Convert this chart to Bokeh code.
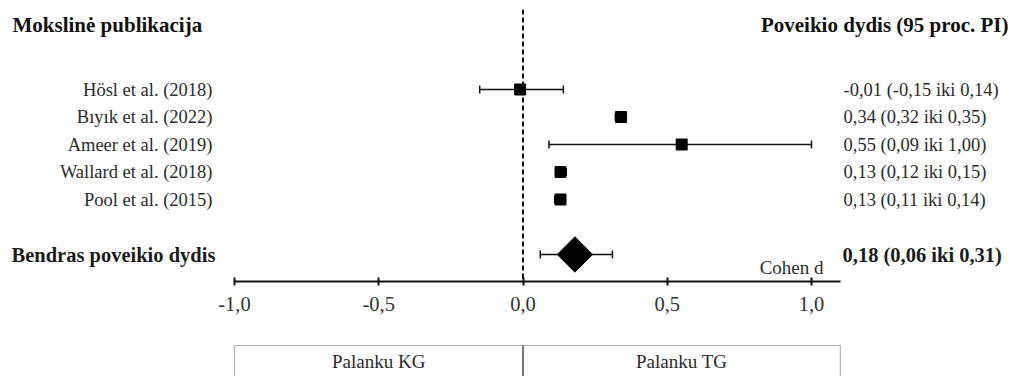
import numpy as np
from bokeh.plotting import figure
from bokeh.layouts import column
from bokeh.models import (Range1d, LinearAxis, FixedTicker, CustomJSTickFormatter,
                          Span, Label, Whisker, TeeHead, ColumnDataSource, Grid)
from bokeh.core.properties import value
from bokeh.embed import file_html
from bokeh.resources import INLINE

# ---------------- data ----------------
studies = ["Hösl et al. (2018)", "Bıyık et al. (2022)", "Ameer et al. (2019)",
           "Wallard et al. (2018)", "Pool et al. (2015)"]
effect = [-0.01, 0.34, 0.55, 0.13, 0.13]
lower = [-0.15, 0.32, 0.09, 0.12, 0.11]
upper = [0.14, 0.35, 1.00, 0.15, 0.14]

pooled_label = "Bendras poveikio dydis"
pooled_effect = 0.18
pooled_lower = 0.06
pooled_upper = 0.31

header_left = "Mokslinė publikacija"
header_right = "Poveikio dydis (95 proc. PI)"
axis_label = "Cohen d"
favour_labels = ["Palanku KG", "Palanku TG"]
tick_values = [-1.0, -0.5, 0.0, 0.5, 1.0]
tick_labels = ["-1,0", "-0,5", "0,0", "0,5", "1,0"]
axis_end = 1.1

# ---------------- layout helpers ----------------
W = 1011
H1 = 338
H2 = 376 - H1
FRAME_TOP = 9
FRAME_BOTTOM = 281      # px of axis line
PX_PER_UNIT = 288.5
X_MINUS1 = 234          # px of x=-1
ROW1_Y = 89
ROW_STEP = 27.5

def px_x(px):
    return -1 + (px - X_MINUS1) / PX_PER_UNIT

def px_y(py):
    return 1 + (py - ROW1_Y) / ROW_STEP

SERIF = value("Liberation Serif")
TXT = "#2b2b2b"

def fmt(v):
    return f"{v:.2f}".replace(".", ",")

n = len(studies)
rows = list(range(1, n + 1))
pooled_row = n + 2

p = figure(width=W, height=H1, output_backend="svg", toolbar_location=None,
           x_range=Range1d(px_x(0), px_x(W)),
           y_range=Range1d(px_y(FRAME_BOTTOM), px_y(FRAME_TOP)),
           x_axis_location=None, y_axis_location=None, title=None,
           min_border_left=0, min_border_right=0, min_border_top=FRAME_TOP,
           min_border_bottom=H1 - FRAME_BOTTOM)
p.outline_line_color = None
p.background_fill_color = "white"
p.border_fill_color = "white"
for r in p.center:
    if isinstance(r, Grid):
        r.visible = False

# x axis
ax = LinearAxis(ticker=FixedTicker(ticks=tick_values),
                formatter=CustomJSTickFormatter(
                    args=dict(tv=tick_values, tl=tick_labels),
                    code="""
                    let best = 0;
                    for (let i = 0; i < tv.length; i++) {
                        if (Math.abs(tv[i] - tick) < Math.abs(tv[best] - tick)) best = i;
                    }
                    return tl[best];
                    """),
                bounds=(tick_values[0], axis_end))
ax.axis_line_width = 2
ax.axis_line_color = "#111111"
ax.major_tick_line_width = 2
ax.major_tick_line_color = "#111111"
ax.major_tick_in = 4
ax.major_tick_out = 4
ax.minor_tick_line_color = None
ax.major_label_text_font = "Liberation Serif"
ax.major_label_text_font_size = "20.5px"
ax.major_label_text_color = "#333333"
ax.major_label_standoff = 11
p.add_layout(ax, "below")

# reference line at 0
p.add_layout(Span(location=0, dimension="height", line_color="#111111",
                  line_width=2, line_dash="5 3"))

# study CIs
src = ColumnDataSource(dict(y=rows, x=effect, lo=lower, hi=upper))
p.add_layout(Whisker(source=src, base="y", lower="lo", upper="hi", dimension="width",
                     line_width=1.5, line_color="#111111",
                     lower_head=TeeHead(size=8, line_width=1.5, line_color="#111111"),
                     upper_head=TeeHead(size=8, line_width=1.5, line_color="#111111")))
p.scatter(x="x", y="y", source=src, marker="square", size=11,
          fill_color="black", line_color="black")

# pooled
psrc = ColumnDataSource(dict(y=[pooled_row], x=[pooled_effect],
                             lo=[pooled_lower], hi=[pooled_upper]))
p.add_layout(Whisker(source=psrc, base="y", lower="lo", upper="hi", dimension="width",
                     line_width=1.5, line_color="#111111",
                     lower_head=TeeHead(size=8, line_width=1.5, line_color="#111111"),
                     upper_head=TeeHead(size=8, line_width=1.5, line_color="#111111")))
p.scatter(x="x", y="y", source=psrc, marker="square", size=25, angle=np.pi / 4,
          fill_color="black", line_color="black")

# study labels
p.text(x=[px_x(212)] * n, y=rows, text=studies, text_align="right",
       text_baseline="middle", text_font=SERIF, text_font_size="18.5px",
       text_color=TXT)
# value labels
vals = [f"{fmt(e)} ({fmt(l)} iki {fmt(u)})" for e, l, u in zip(effect, lower, upper)]
p.text(x=[px_x(843)] * n, y=rows, text=vals, text_align="left",
       text_baseline="middle", text_font=SERIF, text_font_size="18.5px",
       text_color=TXT)

# pooled labels
p.text(x=[px_x(11)], y=[pooled_row], text=[pooled_label], text_align="left",
       text_baseline="middle", text_font=SERIF, text_font_size="20.5px",
       text_font_style="bold", text_color="#1c1c1c")
p.text(x=[px_x(842)], y=[pooled_row],
       text=[f"{fmt(pooled_effect)} ({fmt(pooled_lower)} iki {fmt(pooled_upper)})"],
       text_align="left", text_baseline="middle", text_font=SERIF,
       text_font_size="20.5px", text_font_style="bold", text_color="#1c1c1c")

# headers
p.text(x=[px_x(12)], y=[px_y(24)], text=[header_left], text_align="left",
       text_baseline="middle", text_font=SERIF, text_font_size="21px",
       text_font_style="bold", text_color="#111111")
p.text(x=[px_x(1008)], y=[px_y(24)], text=[header_right], text_align="right",
       text_baseline="middle", text_font=SERIF, text_font_size="21px",
       text_font_style="bold", text_color="#111111")

# axis name
p.add_layout(Label(x=px_x(823), y=4, y_units="screen", text=axis_label,
                   text_align="right", text_baseline="bottom",
                   text_font="Liberation Serif", text_font_size="19px",
                   text_color=TXT))

# ---------------- favour boxes ----------------
p2 = figure(width=W, height=H2, output_backend="svg", toolbar_location=None,
            x_range=p.x_range, y_range=Range1d(H2, 0),
            x_axis_location=None, y_axis_location=None, title=None,
            min_border=0)
p2.outline_line_color = None
for r in p2.center:
    if isinstance(r, Grid):
        r.visible = False
box_top = 345 - H1
p2.quad(left=[tick_values[0], 0], right=[0, axis_end], top=[box_top] * 2,
        bottom=[H2 + 20] * 2, fill_color=None, line_color="#b5b5b5", line_width=1.2)
p2.segment(x0=[0], x1=[0], y0=[box_top], y1=[H2 + 20], line_color="#444444",
           line_width=1.2)
p2.text(x=[(tick_values[0] + 0) / 2, (0 + axis_end) / 2], y=[361 - H1] * 2,
        text=favour_labels, text_align="center", text_baseline="middle",
        text_font=SERIF, text_font_size="19px", text_color=TXT)

layout = column(p, p2, spacing=0)
open("out.html", "w").write(file_html(layout, INLINE))
